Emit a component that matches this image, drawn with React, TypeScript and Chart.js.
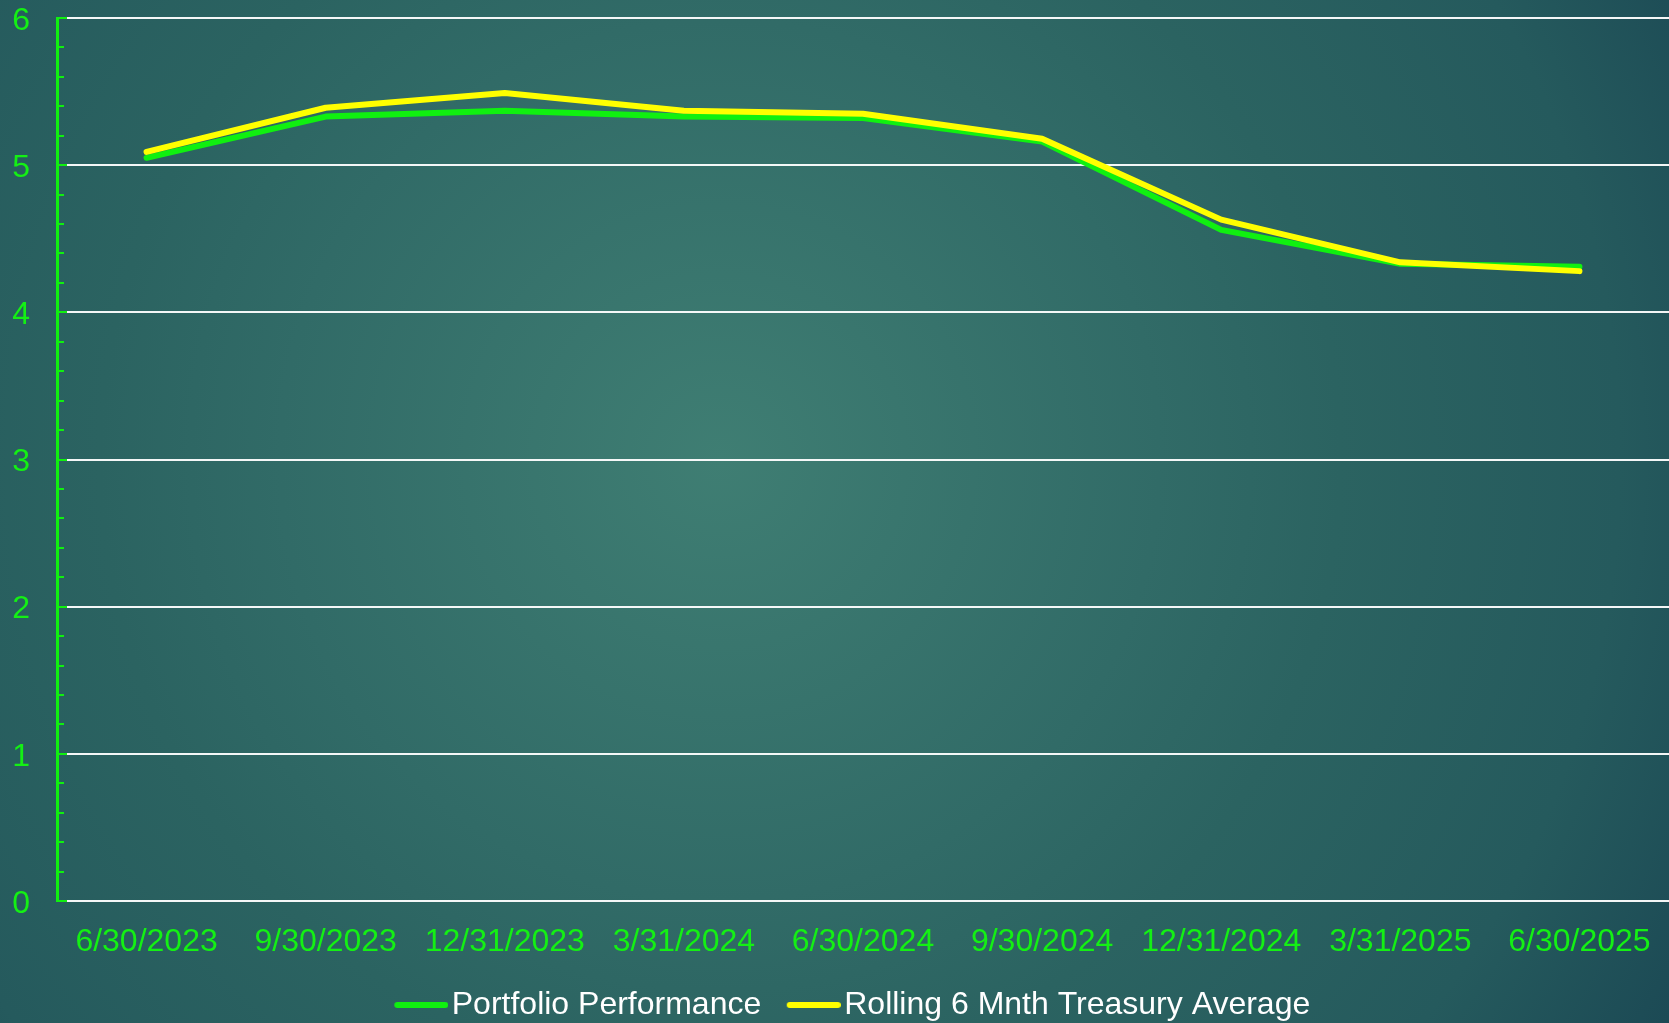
import React, { useEffect, useRef } from 'react';
import { Chart, registerables } from 'chart.js';

Chart.register(...registerables);

const labels = ['6/30/2023', '9/30/2023', '12/31/2023', '3/31/2024', '6/30/2024', '9/30/2024', '12/31/2024', '3/31/2025', '6/30/2025'];
const portfolio = [5.05, 5.33, 5.37, 5.33, 5.32, 5.16, 4.56, 4.33, 4.31];
const treasury = [5.09, 5.39, 5.49, 5.37, 5.35, 5.18, 4.63, 4.34, 4.28];
const seriesNames = ['Portfolio Performance', 'Rolling 6 Mnth Treasury Average'];
const yMin = 0;
const yMax = 6;
const yStep = 1;
const yMinorStep = 0.2;

const GREEN_TEXT = '#14f014';
const GREEN_LINE = '#10f010';
const YELLOW = '#ffff00';
const FONT = '"Liberation Sans", Arial, sans-serif';

function makeSwatch(color: string) {
  const c = document.createElement('canvas');
  c.width = 92;
  c.height = 8;
  const g = c.getContext('2d')!;
  g.strokeStyle = color;
  g.lineWidth = 6;
  g.lineCap = 'round';
  g.beginPath();
  g.moveTo(41, 4);
  g.lineTo(89, 4);
  g.stroke();
  return c;
}

const minorTicks = {
  id: 'minorTicks',
  afterDraw(chart: any) {
    const s = chart.scales.y;
    const ctx = chart.ctx;
    const left = chart.chartArea.left;
    ctx.save();
    ctx.strokeStyle = GREEN_LINE;
    ctx.lineWidth = 2;
    const n = Math.round((yMax - yMin) / yMinorStep);
    for (let i = 0; i <= n; i++) {
      const v = yMin + i * yMinorStep;
      const y = Math.round(s.getPixelForValue(v));
      const len = i % 5 === 0 ? 10 : 7;
      ctx.beginPath();
      ctx.moveTo(left, y);
      ctx.lineTo(left + len, y);
      ctx.stroke();
    }
    ctx.restore();
  },
};

const legendShift = {
  id: 'legendShift',
  afterLayout(chart: any) {
    if (chart.legend) {
      chart.legend.left += 5;
      chart.legend.right += 5;
    }
  },
};

export default function App() {
  const ref = useRef<HTMLCanvasElement | null>(null);

  useEffect(() => {
    document.body.style.margin = '0';
    document.body.style.overflow = 'hidden';
    const swatches = [makeSwatch(GREEN_LINE), makeSwatch(YELLOW)];
    const chart = new Chart(ref.current!, {
      type: 'line',
      data: {
        labels,
        datasets: [
          {
            label: seriesNames[0],
            data: portfolio,
            borderColor: GREEN_LINE,
            backgroundColor: GREEN_LINE,
            borderWidth: 6,
            pointRadius: 0,
            tension: 0,
            borderJoinStyle: 'round',
            borderCapStyle: 'round',
            order: 1,
          },
          {
            label: seriesNames[1],
            data: treasury,
            borderColor: YELLOW,
            backgroundColor: YELLOW,
            borderWidth: 6,
            pointRadius: 0,
            tension: 0,
            borderJoinStyle: 'round',
            borderCapStyle: 'round',
            order: 0,
          },
        ],
      },
      options: {
        animation: false,
        responsive: false,
        devicePixelRatio: 1,
        layout: { padding: { top: 0, left: 0, right: 0, bottom: -8 } },
        plugins: {
          tooltip: { enabled: false },
          legend: {
            position: 'bottom',
            labels: {
              usePointStyle: true,
              pointStyleWidth: 67,
              boxHeight: 32,
              padding: 0,
              color: '#ffffff',
              font: { size: 32, family: FONT },
              sort: (a: any, b: any) => a.datasetIndex - b.datasetIndex,
              generateLabels: (ch: any) => {
                const items = (Chart.defaults.plugins.legend.labels as any).generateLabels(ch);
                return items.map((it: any) => ({ ...it, pointStyle: swatches[it.datasetIndex], fontColor: '#ffffff' }));
              },
            },
          },
        },
        scales: {
          x: {
            offset: true,
            grid: { display: false, drawTicks: false },
            border: { display: false },
            ticks: {
              color: GREEN_TEXT,
              font: { size: 32, family: FONT },
              padding: 22,
              maxRotation: 0,
              autoSkip: false,
            },
            afterFit: (s: any) => {
              s.height = 88;
              s.paddingLeft = 0;
              s.paddingRight = 0;
            },
          },
          y: {
            min: yMin,
            max: yMax,
            ticks: {
              stepSize: yStep,
              color: GREEN_TEXT,
              font: { size: 32, family: FONT },
              padding: 27,
              labelOffset: 3,
            },
            grid: { color: 'rgba(255,255,255,0.95)', lineWidth: 2, drawTicks: false },
            border: { display: true, color: GREEN_LINE, width: 3 },
            afterFit: (s: any) => {
              s.width = 57;
              s.paddingTop = 18;
              s.paddingBottom = 0;
            },
          },
        },
      },
      plugins: [minorTicks, legendShift],
    } as any);
    return () => chart.destroy();
  }, []);

  return (
    <div
      style={{
        width: 1669,
        height: 1023,
        background:
          'radial-gradient(circle 1100px at 720px 460px, #3f7e73 0px, #316b67 440px, #2b6361 620px, #255a5d 900px, #1c4a55 1100px)',
      }}
    >
      <canvas ref={ref} width={1669} height={1023} style={{ display: 'block' }} />
    </div>
  );
}
